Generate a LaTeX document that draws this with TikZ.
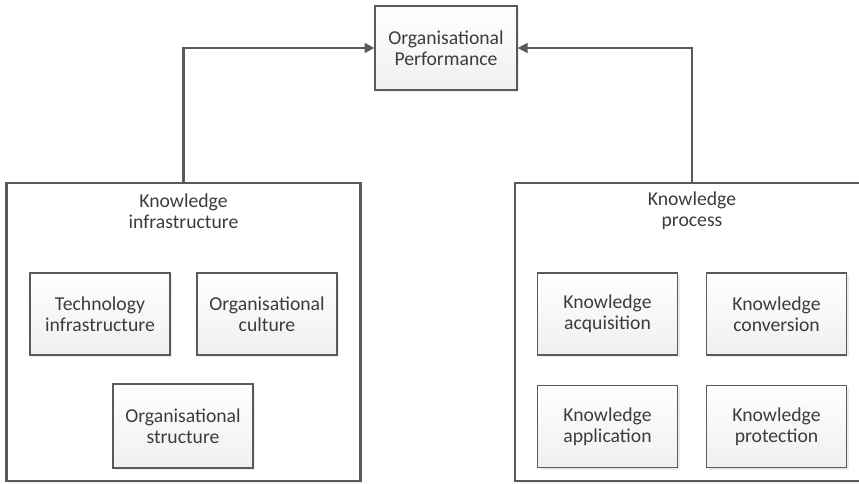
\documentclass[tikz,border=0pt]{standalone}
\usepackage{fontspec}
\setmainfont{Carlito}
\usepackage{tikz}
\usetikzlibrary{positioning,arrows.meta,shadows}
\definecolor{LineGray}{RGB}{90,90,90}
\definecolor{TextGray}{RGB}{60,60,60}
\tikzset{
  group/.style={draw=LineGray,line width=1.5pt,fill=white,minimum width=8.85cm,minimum height=7.45cm,
    drop shadow={shadow xshift=1.2pt,shadow yshift=-1.2pt,opacity=0.15}},
  item/.style={draw=LineGray,line width=0.9pt,top color=white,bottom color=black!6,
    minimum width=3.5cm,minimum height=2.05cm,align=center,text=TextGray,
    font=\fontsize{14}{15.2}\selectfont,
    drop shadow={shadow xshift=1.5pt,shadow yshift=-1.5pt,opacity=0.15}},
  title/.style={align=center,text=TextGray,font=\fontsize{14}{15.2}\selectfont},
  link/.style={draw=LineGray,line width=1.5pt,-{Triangle[length=7pt,width=7pt]}},
}

\begin{document}
\begin{tikzpicture}[x=0.025cm,y=-0.025cm]
\useasboundingbox (0,0) rectangle (859,484);
% outer groups
\node[group] (kinf) at (183.5,332) {};
\node[group] (kproc) at (692,332) {};
\node[title] (kinfT) at (183.5,211) {Knowledge\\infrastructure};
\node[title] (kprocT) at (692,211) {Knowledge\\process};
% top box
\node[item,minimum width=3.55cm,minimum height=2.1cm] (perf) at (446,48) {Organisational\\Performance};
% infrastructure parts
\node[item] (tech) at (100,314) {Technology\\infrastructure};
\node[item] (cult) at (267,314) {Organisational\\culture};
\node[item,minimum height=2.1cm] (struc) at (183,426) {Organisational\\structure};
% process parts
\node[item] (acq) at (607.5,314) {Knowledge\\acquisition};
\node[item] (conv) at (776.5,314) {Knowledge\\conversion};
\node[item] (appl) at (607.5,426.5) {Knowledge\\application};
\node[item] (prot) at (776.5,426.5) {Knowledge\\protection};
% links
\draw[link] (kinf.north) |- (perf.west);
\draw[link] (kproc.north) |- (perf.east);
\end{tikzpicture}
\end{document}
